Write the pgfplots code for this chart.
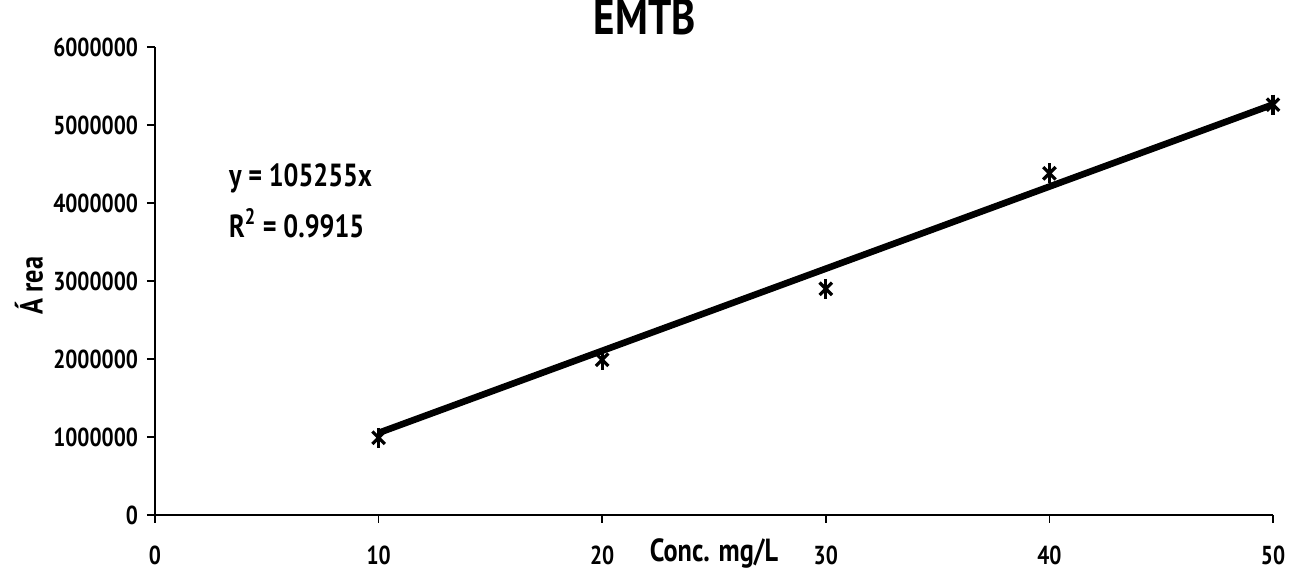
\documentclass[border=0pt]{standalone}
\usepackage{fontspec}
\setmainfont{PT Sans}[FakeStretch=0.82]
\usepackage{pgfplots}
\pgfplotsset{compat=1.18}
\begin{document}
\begin{tikzpicture}
\begin{axis}[
  scale only axis,
  width=559pt, height=234pt,
  xmin=0, xmax=50, ymin=0, ymax=6000000,
  axis lines=left,
  axis line style={line width=0.8pt, -},
  xtick={0,10,20,30,40,50},
  ytick={0,1000000,2000000,3000000,4000000,5000000,6000000},
  tick style={black, line width=0.7pt},
  major tick length=4pt,
  tick align=outside,
  scaled y ticks=false,
  /pgf/number format/assume math mode=true,
  yticklabel={\pgfmathprintnumber[fixed,precision=0,1000 sep={}]{\tick}},
  xticklabel={\pgfmathprintnumber{\tick}},
  tick label style={font=\bfseries\fontsize{13}{15}\selectfont},
  x tick label style={yshift=-8pt},
  y tick label style={xshift=-1pt},
  xlabel={Conc. mg/L},
  xlabel style={at={(rel axis cs:0.5,0)}, anchor=center, yshift=-19pt, font=\bfseries\fontsize{16}{18}\selectfont},
  ylabel={Á rea},
  ylabel style={at={(rel axis cs:0,0.49)}, anchor=center, yshift=63pt, font=\bfseries\fontsize{16}{18}\selectfont},
  title={EMTB},
  title style={at={(rel axis cs:0.438,1)}, anchor=center, yshift=9pt, font=\bfseries\fontsize{25}{27}\selectfont},
  clip=false,
]
\coordinate (O) at (rel axis cs:0,0);
\coordinate (T) at (rel axis cs:1,1);
\addplot[black, line width=3.3pt] coordinates {(10,1052550) (50,5262750)};
\addplot[only marks, mark=x, mark size=4.4pt, line width=1.6pt, black] coordinates {
  (10,990000) (20,1990000) (30,2900000) (40,4380000) (50,5260000)};
\addplot[only marks, mark=|, mark size=5pt, line width=1.6pt, black] coordinates {
  (10,990000) (20,1990000) (30,2900000) (40,4380000) (50,5260000)};
\node[anchor=west, font=\bfseries\fontsize{16}{18}\selectfont] at (axis cs:3.0,4320000) {y = 105255x};
\node[anchor=west, font=\bfseries\fontsize{16}{18}\selectfont] at (axis cs:3.0,3740000) {R\textsuperscript{2} = 0.9915};
\end{axis}
\pgfresetboundingbox
\path (O) ++(-77.5pt,-33pt) coordinate (BL);
\path (T) ++(9pt,23.5pt) coordinate (TR);
\useasboundingbox (BL) rectangle (TR);
\end{tikzpicture}
\end{document}
